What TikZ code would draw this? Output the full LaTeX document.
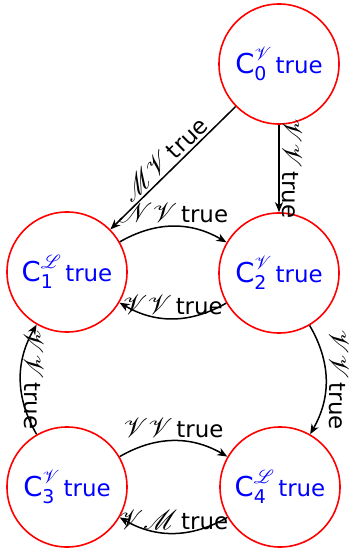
\documentclass[tikz,border=0pt]{standalone}
\usepackage{fix-cm}
\usepackage{amsmath}
\usepackage{mathrsfs}
\DeclareFontFamily{U}{rsfs}{\skewchar\font127 }
\DeclareFontShape{U}{rsfs}{m}{n}{<-6>rsfs5 <6-8>rsfs7 <8->rsfs10}{}
\usepackage{fontspec}
\setmainfont{DejaVu Sans}
\setsansfont{DejaVu Sans}
\usetikzlibrary{arrows.meta}
\DeclareMathSizes{23}{27.5}{19}{15}
\newcommand{\cst}[2]{${\text{\fontsize{27.5}{30}\selectfont C}}^{\mathscr{#1}}_{\textsf{#2}}$\,true}
\begin{document}
\begin{tikzpicture}[x=1bp,y=1bp,
  state/.style={circle, draw=red, line width=1.6bp, minimum size=120bp, inner sep=0pt, text=blue, font=\fontsize{23}{27}\selectfont},
  trans/.style={-{Stealth[length=10bp,width=8bp,inset=3bp]}, line width=1.5bp, black},
  lab/.style={font=\fontsize{23}{27}\selectfont, inner sep=2.5bp, text=black}]
\useasboundingbox (0,0) rectangle (349,-549);
\node[state] (C0) at (279,-64) {\cst{V}{0}};
\node[state] (C1) at (67,-272) {\cst{L}{1}};
\node[state] (C2) at (279,-273) {\cst{V}{2}};
\node[state] (C3) at (67,-487) {\cst{V}{3}};
\node[state] (C4) at (280,-487) {\cst{L}{4}};
\draw[trans] (C0) -- node[lab, sloped, above] {$\mathscr{M}\mathscr{V}$\,true} (C1);
\draw[trans] (C0) -- node[lab, rotate=-90, anchor=south] {$\mathscr{V}\mathscr{V}$\,true} (C2);
\draw[trans] (C1) to[bend left] node[lab, above] {$\mathscr{N}\mathscr{V}$\,true} (C2);
\draw[trans] (C2) to[bend left] node[lab, above] {$\mathscr{V}\mathscr{V}$\,true} (C1);
\draw[trans] (C2) to[bend left] node[lab, rotate=-90, anchor=south] {$\mathscr{V}\mathscr{V}$\,true} (C4);
\draw[trans] (C3) to[bend left] node[lab, rotate=-90, anchor=south] {$\mathscr{V}\mathscr{V}$\,true} (C1);
\draw[trans] (C3) to[bend left] node[lab, above] {$\mathscr{V}\mathscr{V}$\,true} (C4);
\draw[trans] (C4) to[bend left] node[lab, above] {$\mathscr{V}\mathscr{M}$\,true} (C3);
\end{tikzpicture}
\end{document}
